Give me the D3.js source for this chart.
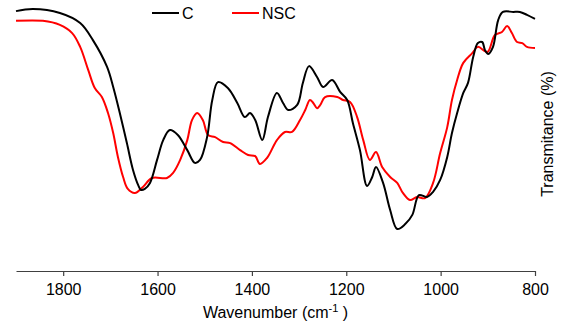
<!DOCTYPE html>
<html>
<head>
<meta charset="utf-8">
<script src="https://cdn.jsdelivr.net/npm/d3@7"></script>
<style>
  body { margin: 0; background: #fff; }
  text { font-family: Arial, "Liberation Sans", sans-serif; }
</style>
</head>
<body>
<script>
// FTIR spectra, wavenumber (cm-1) vs transmitance (%)
const waveC = [1900,1864,1807,1764,1737,1707,1694,1680,1665,1652,1641,1635,1627,1616,1601,1588,1574,1557,1537,1521,1510,1495,1484,1472,1451,1431,1415,1404,1393,1378,1366,1347,1334,1323,1304,1292,1279,1262,1249,1230,1213,1198,1186,1171,1156,1145,1137,1122,1107,1092,1075,1060,1046,1029,1016,1001,986,976,965,952,942,931,921,912,906,899,889,878,868,846,832,817,800];
const transC = [95.9,96.7,95.2,91.5,85.2,75.3,67.9,58.3,47.2,37.3,31.7,29.9,30.3,32.5,41.0,48.3,52.0,50.2,44.6,39.9,41.0,49.4,63.1,69.7,67.5,62.0,56.8,58.3,55.7,48.3,56.8,65.7,62.0,59.4,61.3,69.4,75.6,71.6,67.9,70.5,66.1,63.1,54.6,44.6,31.4,34.7,38.4,32.5,22.5,15.5,17.3,20.7,28.0,27.3,29.2,33.6,42.1,50.9,58.3,65.7,69.4,79.0,84.1,84.5,81.5,80.1,82.7,92.6,95.6,95.6,95.6,94.5,93.0];

const waveNSC = [1900,1843,1807,1781,1764,1747,1733,1718,1705,1694,1684,1673,1663,1648,1631,1612,1580,1567,1552,1537,1527,1516,1504,1493,1478,1461,1446,1425,1408,1393,1383,1368,1347,1330,1315,1298,1287,1277,1270,1262,1255,1245,1219,1207,1192,1177,1164,1150,1137,1124,1107,1092,1080,1065,1050,1033,1016,1001,986,976,965,952,933,921,901,885,870,859,849,838,827,817,800];
const transNSC = [92.3,92.3,90.8,87.8,82.7,74.2,67.5,64.2,58.3,50.9,42.1,34.7,30.3,28.8,31.0,34.3,34.3,36.2,41.0,48.3,55.7,58.3,55.7,50.2,49.4,47.6,47.2,44.6,42.8,42.4,39.5,41.7,48.3,51.3,51.3,55.7,59.4,63.1,62.0,60.1,61.3,64.2,64.2,63.1,62.4,56.8,48.3,41.0,43.9,38.4,34.7,32.5,28.8,26.2,27.3,26.9,32.5,43.5,53.1,63.1,70.5,76.8,80.4,82.7,80.8,87.1,88.2,90.4,87.8,84.5,84.1,82.7,82.3];

const xTicks = [1800, 1600, 1400, 1200, 1000, 800];

const series = [
  { name: "C", color: "#000000", wave: waveC, trans: transC },
  { name: "NSC", color: "#ff0000", wave: waveNSC, trans: transNSC }
];

const width = 567, height = 323;
const left = 16, right = 535, axisY = 271;

const svg = d3.select("body").append("svg")
    .attr("width", width)
    .attr("height", height);

const x = d3.scaleLinear().domain([1900, 800]).range([left, right]);
const y = d3.scaleLinear().domain([0, 100]).range([axisY, 0]);

const line = d3.line()
    .x(d => x(d[0]))
    .y(d => y(d[1]))
    .curve(d3.curveCatmullRom.alpha(0.5));

// red first so black sits on top where they cross
series.slice().reverse().forEach(s => {
  svg.append("path")
      .datum(s.wave.map((w, i) => [w, s.trans[i]]))
      .attr("fill", "none")
      .attr("stroke", s.color)
      .attr("stroke-width", 2)
      .attr("stroke-linejoin", "round")
      .attr("d", line);
});

// x axis
const gx = svg.append("g")
    .attr("transform", `translate(0,${axisY})`)
    .call(d3.axisBottom(x).tickValues(xTicks).tickFormat(d3.format("d"))
      .tickSize(5).tickSizeOuter(0).tickPadding(8));
gx.select(".domain").attr("stroke", "#404040").attr("stroke-width", 1.2);
gx.selectAll(".tick line").attr("stroke", "#404040").attr("stroke-width", 1.2);
gx.selectAll(".tick text")
    .attr("fill", "#000")
    .style("font-size", "16px")
    .style("font-family", "Arial, 'Liberation Sans', sans-serif");

// axis titles
const xt = svg.append("text")
    .attr("x", (left + right) / 2)
    .attr("y", 318)
    .attr("text-anchor", "middle")
    .style("font-size", "16px");
xt.append("tspan").text("Wavenumber (cm");
xt.append("tspan").attr("dy", -6).style("font-size", "11px").text("-1");
xt.append("tspan").attr("dy", 6).text(" )");

svg.append("text")
    .attr("transform", `translate(553,134) rotate(-90)`)
    .attr("text-anchor", "middle")
    .style("font-size", "16px")
    .text("Transmitance (%)");

// legend
const legend = svg.append("g");
const legX = [152, 232];
series.forEach((s, i) => {
  legend.append("line")
      .attr("x1", legX[i]).attr("x2", legX[i] + 27)
      .attr("y1", 13).attr("y2", 13)
      .attr("stroke", s.color)
      .attr("stroke-width", 2);
  legend.append("text")
      .attr("x", legX[i] + 30)
      .attr("y", 19)
      .style("font-size", "16px")
      .text(s.name);
});
</script>
</body>
</html>
